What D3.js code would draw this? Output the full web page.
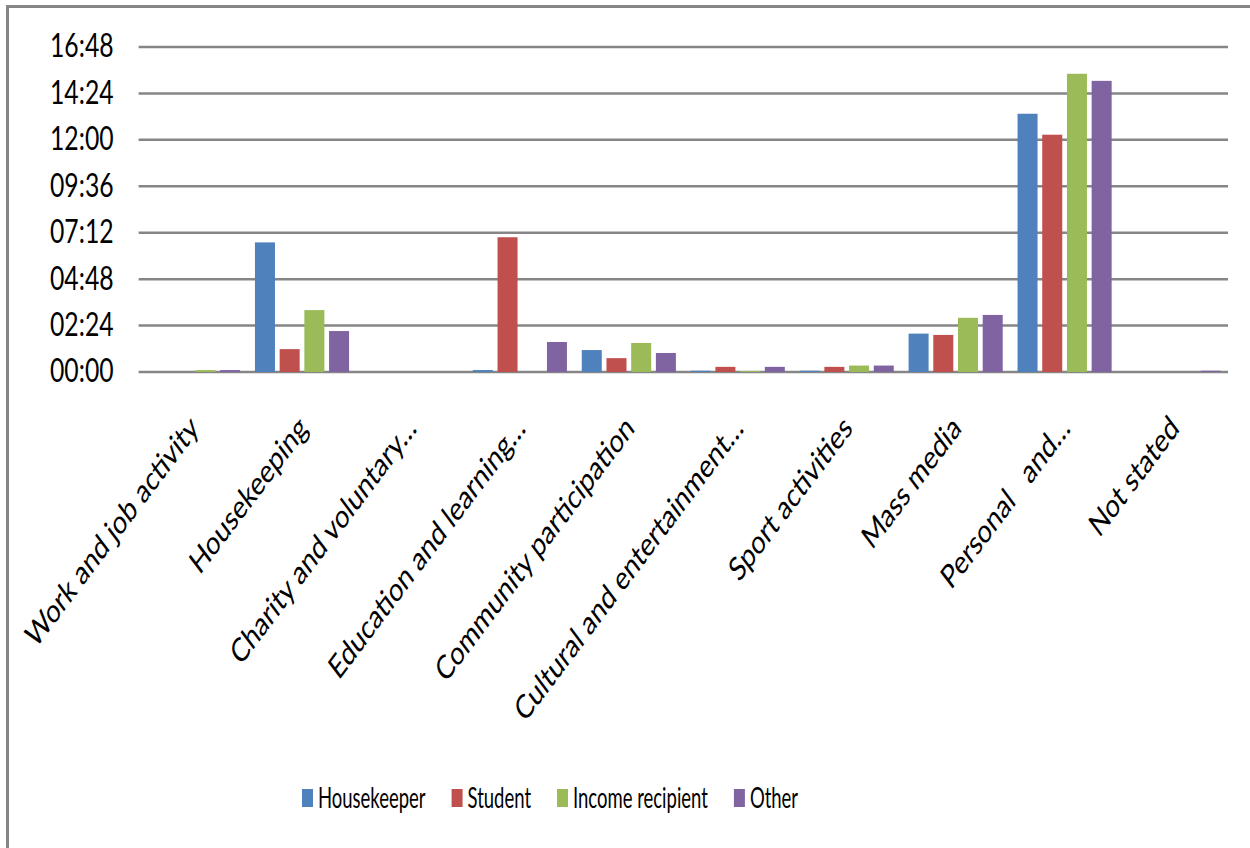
<!DOCTYPE html>
<html>
<head>
<meta charset="utf-8">
<script src="https://cdn.jsdelivr.net/npm/d3@7"></script>
<style>
	body { margin: 0; background: #fff; }
	svg { display: block; }
	text { font-family: Lato, "Open Sans", sans-serif; fill: #000; white-space: pre; }
</style>
</head>
<body>
<svg id="chart"></svg>
<script>
// minutes per day
const categories = [
	'Work and job activity',
	'Housekeeping',
	'Charity and voluntary…',
	'Education and learning…',
	'Community participation',
	'Cultural and entertainment…',
	'Sport activities',
	'Mass media',
	'Personal   and…',
	'Not stated',
];
const seriesNames = ['Housekeeper', 'Student', 'Income recipient', 'Other'];
const housekeeper = [0, 402, 0, 6, 68, 4, 4, 119, 801, 0];
const student = [0, 71, 0, 418, 43, 16, 16, 115, 736, 0];
const incomeRecipient = [6, 192, 0, 0, 90, 3, 20, 168, 925, 0];
const other = [6, 127, 0, 93, 59, 16, 20, 177, 903, 4];
const yTicks = [0, 144, 288, 432, 576, 720, 864, 1008];
const colors = ['#4F81BD', '#C0504D', '#9BBB59', '#8064A2'];

const W = 1250;
const H = 848;
const squeeze = 0.75; // text in the source is narrowed horizontally

function formatTime(min) {
	const h = Math.floor(min / 60);
	const m = min % 60;
	return `${String(h).padStart(2, '0')}:${String(m).padStart(2, '0')}`;
}

function draw() {
	const svg = d3.select('#chart')
		.attr('width', W)
		.attr('height', H);

	// frame (only top and left edges visible)
	svg.append('line')
		.attr('x1', 7.5).attr('x2', W).attr('y1', 6.5).attr('y2', 6.5)
		.attr('stroke', '#868686').attr('stroke-width', 3);
	svg.append('line')
		.attr('x1', 7.5).attr('x2', 7.5).attr('y1', 5).attr('y2', H)
		.attr('stroke', '#868686').attr('stroke-width', 3);

	const left = 138.6;
	const right = 1228;
	const x0 = d3.scaleBand()
		.domain(categories)
		.range([left, right]);
	const x1 = d3.scaleBand()
		.domain(seriesNames)
		.range([0, x0.bandwidth()])
		.paddingInner(0.19)
		.paddingOuter(0.3);
	const y = d3.scaleLinear()
		.domain([0, 1008])
		.range([372, 47]);

	// gridlines
	svg.append('g')
		.selectAll('line')
		.data(yTicks)
		.enter()
		.append('line')
		.attr('x1', left)
		.attr('x2', right)
		.attr('y1', d => y(d))
		.attr('y2', d => y(d))
		.attr('stroke', '#868686')
		.attr('stroke-width', 2.5);

	// y axis labels
	const yAxis = svg.append('g')
		.attr('transform', `translate(${left},0)`)
		.call(d3.axisLeft(y).tickValues(yTicks).tickFormat(formatTime).tickSize(0));
	yAxis.select('.domain').remove();
	yAxis.selectAll('text')
		.attr('x', 0)
		.attr('dy', '0.3em')
		.attr('transform', `translate(-25,0) scale(${squeeze},1)`)
		.style('font-family', 'Lato, sans-serif')
		.style('font-size', '33px')
		.attr('fill', '#000');

	// bars
	const seriesData = [housekeeper, student, incomeRecipient, other];
	seriesData.forEach((values, si) => {
		svg.append('g')
			.selectAll('rect')
			.data(values)
			.enter()
			.append('rect')
			.attr('x', (d, i) => x0(categories[i]) + x1(seriesNames[si]))
			.attr('width', x1.bandwidth())
			.attr('y', d => y(d))
			.attr('height', d => y(0) - y(d))
			.attr('fill', colors[si]);
	});

	// category labels
	svg.append('g')
		.selectAll('text')
		.data(categories)
		.enter()
		.append('text')
		.attr('text-anchor', 'end')
		.attr('transform', d => `translate(${x0(d) + x0.bandwidth() / 2 + 7},430) scale(${squeeze},1) rotate(-45)`)
		.style('font-size', '33px')
		.text(d => d);

	// legend
	const legendSqueeze = 0.66;
	const legend = svg.append('g');
	let lx = 302;
	seriesNames.forEach((name, i) => {
		legend.append('rect')
			.attr('x', lx)
			.attr('y', 789)
			.attr('width', 11)
			.attr('height', 18)
			.attr('fill', colors[i]);
		const t = legend.append('text')
			.attr('transform', `translate(${lx + 16},808) scale(${legendSqueeze},1)`)
			.style('font-size', '28px')
			.text(name);
		const tw = t.node().getComputedTextLength() * legendSqueeze;
		lx += 16 + tw + 26;
	});
}

document.addEventListener('DOMContentLoaded', () => {
	draw();
});
</script>
</body>
</html>
